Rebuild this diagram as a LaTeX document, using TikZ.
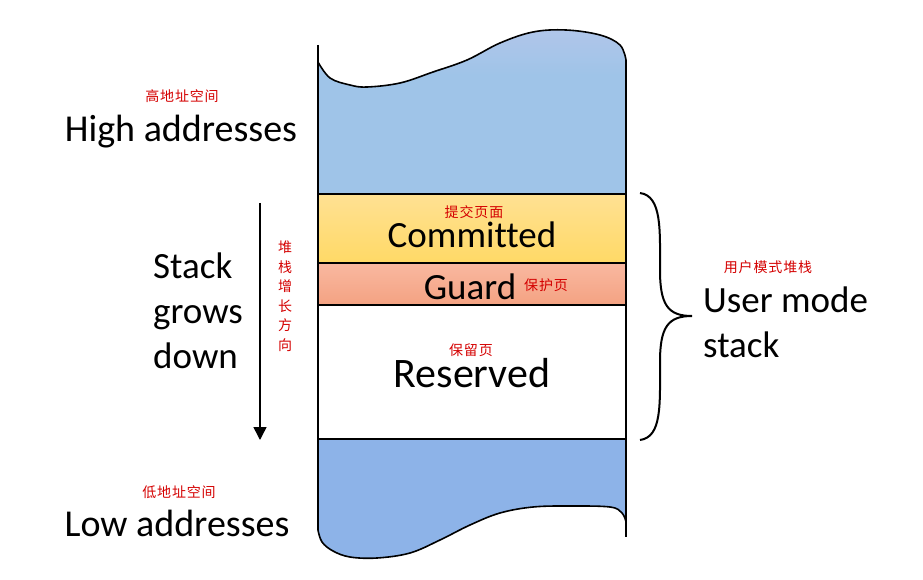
\documentclass[tikz,border=0pt]{standalone}
\usepackage{fontspec}
\setmainfont{Carlito}[Ligatures=NoCommon]
\newfontfamily\cjk[LetterSpace=6]{Noto Sans CJK SC}
\usetikzlibrary{arrows.meta}
\definecolor{topblue}{HTML}{9FC4E8}
\definecolor{topblueb}{HTML}{B2C6EA}
\definecolor{lowblue}{HTML}{8DB3E8}
\definecolor{commita}{HTML}{FFE193}
\definecolor{commitb}{HTML}{FFD966}
\definecolor{guarda}{HTML}{F9B8A0}
\definecolor{guardb}{HTML}{F4A282}
\definecolor{zhred}{HTML}{D40000}

\begin{document}
\begin{tikzpicture}[x=1pt,y=-1pt,
    en/.style={font=\fontsize{37}{45}\selectfont, inner sep=0pt},
    zh/.style={font=\cjk\fontsize{14}{19.5}\selectfont, text=zhred, inner sep=0pt}]
    \useasboundingbox (0,0) rectangle (923,580);

    \begin{scope}
    \clip plot [smooth, tension=0.6] coordinates {(318,62) (330,78) (350,85) (367,87) (400,83) (433,72) (467,60) (500,43) (533,32) (566,30) (600,35) (620,45) (626,60)} -- (626,194) -- (318,194) -- cycle;
    \fill[topblue] (318,20) rectangle (626,194);
    \fill[top color=topblueb, bottom color=topblue] (318,25) rectangle (626,75);
    \end{scope}

    \fill[top color=commita, bottom color=commitb] (318,194) rectangle (626,263);
    \fill[top color=guarda, bottom color=guardb] (318,263) rectangle (626,305);

    \fill[lowblue] (318,440) -- plot [smooth, tension=0.6] coordinates {(318,530) (322,542) (333,551) (350,557) (377,558) (410,553) (440,540) (470,525) (500,513) (533,507) (570,506) (610,507) (622,513) (626,522)} -- (626,440) -- cycle;

    \draw[line width=1.6pt] plot [smooth, tension=0.6] coordinates {(318,62) (330,78) (350,85) (367,87) (400,83) (433,72) (467,60) (500,43) (533,32) (566,30) (600,35) (620,45) (626,60)};
    \draw[line width=1.6pt] plot [smooth, tension=0.6] coordinates {(318,530) (322,542) (333,551) (350,557) (377,558) (410,553) (440,540) (470,525) (500,513) (533,507) (570,506) (610,507) (622,513) (626,522)};
    \draw[line width=1.6pt] (318,45) -- (318,530);
    \draw[line width=1.6pt] (626,60) -- (626,537);
    \draw[line width=1.2pt] (318,194) -- (626,194);
    \draw[line width=1.2pt] (318,263) -- (626,263);
    \draw[line width=1.2pt] (318,305) -- (626,305);
    \draw[line width=1.2pt] (318,439) -- (626,439);

    \node[zh] (highzh) at (182,96) {高地址空间};
    \node[en, font=\fontsize{38}{45}\selectfont] (high) at (181,132) {High addresses};
    \node[zh] (lowzh) at (179,492) {低地址空间};
    \node[en, font=\fontsize{38}{45}\selectfont] (low) at (177,523) {Low addresses};

    \node[en, align=left, anchor=west] (grows) at (153,311) {Stack\\grows\\down};
    \coordinate (arrowtop) at (260,203);
    \coordinate (arrowend) at (260,440);
    \draw[line width=1.5pt, -{Triangle[width=13pt,length=13pt]}] (arrowtop) -- (arrowend);
    \node[zh, align=center] (growszh) at (285,296) {堆\\栈\\增\\长\\方\\向};

    \node[zh] (commitzh) at (474,212) {提交页面};
    \node[en] (commit) at (472,235) {Committed};
    \node[en] (guard) at (470,287) {Guard};
    \node[zh, anchor=west] (guardzh) at (524,285) {保护页};
    \node[zh] (reservedzh) at (471,350) {保留页};
    \node[en, font=\fontsize{42}{45}\selectfont] (reserved) at (472,373) {Reserved};

    \draw[line width=2pt] (640,193) .. controls (662,196) and (660,230) .. (660,270) .. controls (660,305) and (668,316) .. (692,316) .. controls (668,316) and (660,327) .. (660,362) .. controls (660,405) and (662,437) .. (640,440);
    \node[zh] (userzh) at (768,267) {用户模式堆栈};
    \node[en, align=left, anchor=west] (user) at (703,322) {User mode\\stack};
\end{tikzpicture}
\end{document}
